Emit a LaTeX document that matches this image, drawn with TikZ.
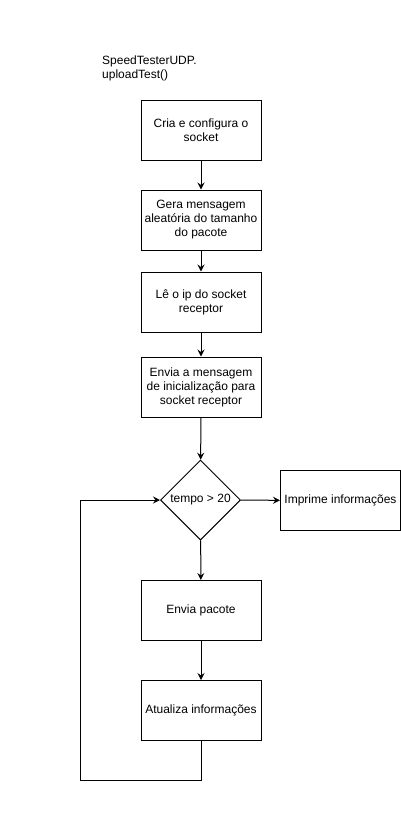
\documentclass[tikz,border=0pt]{standalone}
\usepackage{fontspec}
\setmainfont{Liberation Sans}
\usetikzlibrary{arrows.meta,shapes.geometric}
\begin{document}
\begin{tikzpicture}[x=1pt,y=-1pt,
  every node/.style={font=\fontsize{12}{14}\selectfont},
  stepbox/.style={draw,line width=1pt,minimum width=120pt,minimum height=60pt,
    align=center,inner sep=0pt},
  decision/.style={draw,line width=1pt,diamond,aspect=1,minimum width=80pt,
    minimum height=80pt,inner sep=0pt},
  flow/.style={line width=1pt,-{Stealth[length=7pt,width=7pt,inset=2.5pt]}},
  plain/.style={line width=1pt}]
\useasboundingbox (0,0) rectangle (401,825);
\node[anchor=north west,align=left,inner sep=0pt] (title) at (102,56)
  {SpeedTesterUDP.\\uploadTest()};
\node[stepbox] (cria) at (201,130) {Cria e configura o\\socket};
\node[stepbox] (gera) at (201,220) {Gera mensagem\\aleatória do tamanho\\do pacote};
\node[stepbox] (le) at (201,302) {Lê o ip do socket\\receptor};
\node[stepbox] (envia) at (201,387) {Envia a mensagem\\de inicialização para\\socket receptor};
\node[decision] (tempo) at (200.5,500) {tempo > 20};
\node[stepbox] (imprime) at (340.5,500.5) {Imprime informações};
\node[stepbox] (pacote) at (201,610.5) {Envia pacote};
\node[stepbox] (atualiza) at (201,710.5) {Atualiza informações};
\coordinate (loopA) at (201,780);
\coordinate (loopB) at (80.5,780);
\coordinate (loopC) at (80.5,500);
\draw[flow] (cria) -- (gera);
\draw[flow] (gera) -- (le);
\draw[flow] (le) -- (envia);
\draw[flow] (envia) -- (tempo);
\draw[flow] (tempo) -- (imprime);
\draw[flow] (tempo) -- (pacote);
\draw[flow] (pacote) -- (atualiza);
\draw[flow] (atualiza.south) -- (loopA) -- (loopB) -- (loopC) -- (tempo.west);
\end{tikzpicture}
\end{document}
